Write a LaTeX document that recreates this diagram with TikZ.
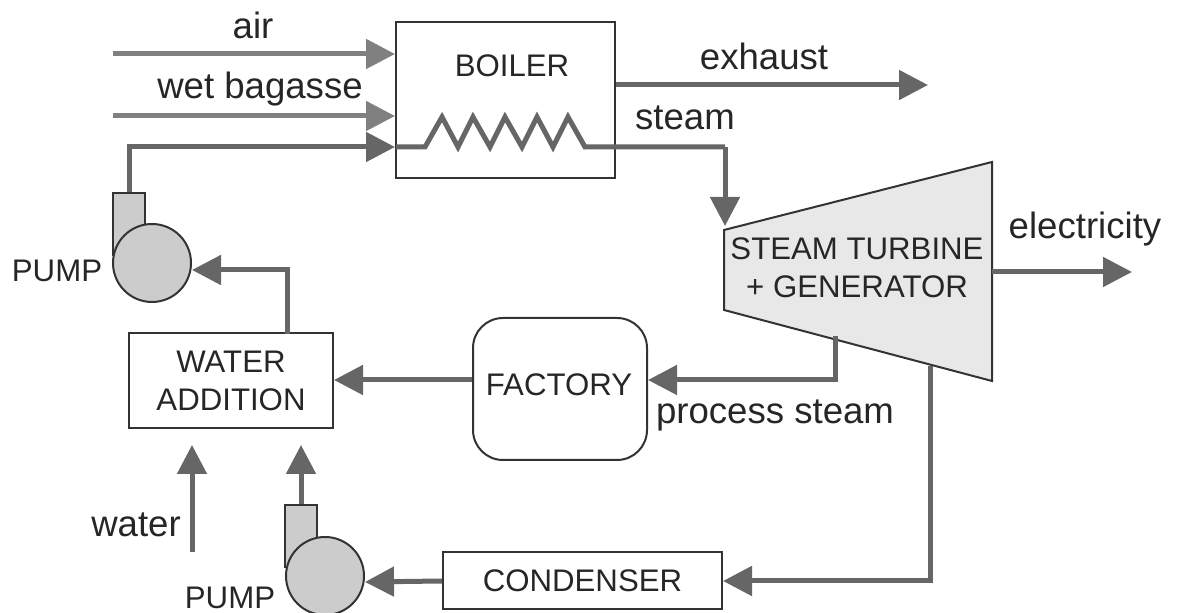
\documentclass[tikz,border=0pt]{standalone}
\usepackage{fontspec}
\setmainfont{Liberation Sans}
\usetikzlibrary{arrows.meta}
\definecolor{flowgrey}{HTML}{666666}
\definecolor{feedgrey}{HTML}{808080}
\definecolor{pumpgrey}{HTML}{CCCCCC}
\definecolor{turbinegrey}{HTML}{E8E8E8}
\tikzset{
    unit/.style={draw=black!80,line width=1pt,font=\fontsize{15.6}{18}\selectfont,align=center,inner sep=0pt,text=black!85},
    lbl/.style={font=\fontsize{18.3}{20}\selectfont,inner sep=0pt,text=black!85},
    caps/.style={font=\fontsize{15.6}{18}\selectfont,inner sep=0pt,text=black!85},
    flow/.style={draw=flowgrey,line width=2.5pt,-{Triangle[length=14.5pt,width=14.5pt]}},
    feed/.style={flow,draw=feedgrey},
    coil/.style={draw=flowgrey,line width=2.5pt}
}
\begin{document}
\begin{tikzpicture}[x=0.5pt,y=-0.5pt]
    \useasboundingbox (0,0) rectangle (1178,613);

    % units
    \begin{scope}[every node/.style={unit}]
        \node[minimum width=109.5pt,minimum height=78pt] (boiler) at (505.5,100) {};
        \node[minimum width=102pt,minimum height=47.5pt] (water) at (231,381) {WATER\\[1pt]ADDITION};
        \node[minimum width=87pt,minimum height=71pt,rounded corners=15pt] (factory) at (560,389) {};
        \node[minimum width=139.5pt,minimum height=28.5pt] (condenser) at (582.5,581) {CONDENSER};
    \end{scope}
    \node[caps] (factorylbl) at (559,385) {FACTORY};

    % turbine
    \coordinate (t1) at (724,230);
    \coordinate (t2) at (992,162);
    \coordinate (t3) at (992,381);
    \coordinate (t4) at (724,310);
    \draw[fill=turbinegrey,draw=black!80,line width=1pt] (t1) -- (t2) -- (t3) -- (t4) -- cycle;
    \node[caps,align=center] (turbine) at (857,268) {STEAM TURBINE\\[1pt]+ GENERATOR};

    % pumps
    \begin{scope}[every node/.style={draw=black!80,line width=1pt,fill=pumpgrey,inner sep=0pt}]
        \node[minimum width=16pt,minimum height=31pt] (casingA) at (129,224.5) {};
        \node[circle,minimum size=39pt] (pumpA) at (152,263) {};
        \node[minimum width=16pt,minimum height=31pt] (casingB) at (301,536.5) {};
        \node[circle,minimum size=39pt] (pumpB) at (325,576) {};
    \end{scope}

    % labels
    \node[lbl] (airlbl) at (253,25) {air};
    \node[lbl] (baglbl) at (260,89) {wet bagasse};
    \node[caps] (boilerlbl) at (512,66) {BOILER};
    \node[lbl] (exhlbl) at (764,56) {exhaust};
    \node[lbl] (steamlbl) at (685,118) {steam};
    \node[lbl] (eleclbl) at (1085,229) {electricity};
    \node[lbl] (proclbl) at (775,415) {process steam};
    \node[lbl] (waterlbl) at (136,525) {water};
    \node[caps] (pumplblA) at (57,271) {PUMP};
    \node[caps] (pumplblB) at (230,598) {PUMP};

    % free ends and bends
    \coordinate (airin) at (113,54);
    \coordinate (bagin) at (113,116);
    \coordinate (wsrc) at (192,552);
    \coordinate (wend) at (192,445);
    \coordinate (pbend) at (301,445);
    \coordinate (coilin) at (425,147);
    \coordinate (coilout) at (585,147);

    % coil
    \draw[coil,line join=miter] (396,147) -- (coilin) -- (442,117) -- (458,147) -- (473,117) -- (490,147) -- (505,117) -- (522,147) -- (537,117) -- (553,147) -- (568,117) -- (coilout) -- (725,147);

    % connectors
    \draw[feed] (airin) -- (airin -| boiler.west);
    \draw[feed] (bagin) -- (bagin -| boiler.west);
    \draw[flow] (casingA.north) -- (129,147) -- (coilin -| boiler.west);
    \draw[flow] (boiler.east |- 0,85) -- (928,85);
    \draw[flow] (725,147) -- (725,226);
    \draw[flow] (992,272) -- (1132,272);
    \draw[flow] (835,336) -- (835,380) -- (factory.east |- 0,380);
    \draw[flow] (factory.west |- 0,380) -- (water.east |- 0,380);
    \draw[flow] (287,334) -- (287,270) -- (pumpA.east |- 0,270);
    \draw[flow] (wsrc) -- (wend);
    \draw[flow] (casingB.north) -- (pbend);
    \draw[flow] (condenser.west |- 0,581) -- (pumpB.east |- 0,582);
    \draw[flow] (930,366) -- (930,581) -- (condenser.east |- 0,581);
\end{tikzpicture}
\end{document}
